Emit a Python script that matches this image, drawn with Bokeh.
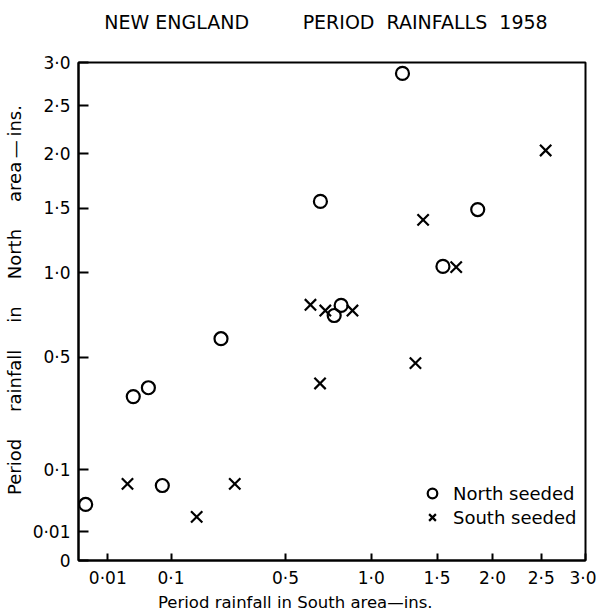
import numpy as np
from bokeh.plotting import figure
from bokeh.models import Range1d, FixedTicker, CustomJSTickFormatter, Title
from bokeh.embed import file_html
from bokeh.resources import INLINE

# ---- data (inches of rainfall per period) ----
north_seeded_south = [0.0006, 0.035, 0.057, 0.082, 0.237, 0.683, 0.763, 0.805, 1.225, 1.55, 1.86]
north_seeded_north = [0.038, 0.325, 0.361, 0.068, 0.595, 1.56, 0.726, 0.787, 2.87, 1.046, 1.49]
south_seeded_south = [0.028, 0.163, 0.285, 0.681, 0.628, 0.711, 0.876, 1.325, 1.386, 1.665, 2.547]
south_seeded_north = [0.071, 0.023, 0.071, 0.379, 0.791, 0.756, 0.756, 0.471, 1.404, 1.041, 2.034]

x_tick_values = [0.01, 0.1, 0.5, 1.0, 1.5, 2.0, 2.5, 3.0]
x_tick_labels = ["0·01", "0·1", "0·5", "1·0", "1·5", "2·0", "2·5", "3·0"]
y_tick_values = [0.0, 0.01, 0.1, 0.5, 1.0, 1.5, 2.0, 2.5, 3.0]
y_tick_labels = ["0", "0·01", "0·1", "0·5", "1·0", "1·5", "2·0", "2·5", "3·0"]

title_text = ("NEW ENGLAND\u2003\u2003\u2002\u00a0PERIOD\u00a0 RAINFALLS\u00a0 1958\u00a0\u00a0\n\u00a0")
x_label_text = "Period rainfall in South area\u2014ins." + "\u00a0" * 14
gap = "\u2003\u2002"
y_label_text = ("\u00a0" * 4 + "Period" + gap + "rainfall" + gap + "in" + gap + "North" + gap
                + "area\u2009\u2014\u2009ins.")

FONT = "DejaVu Sans"
vmax = 3.0

p = figure(width=596, height=614, output_backend="svg", toolbar_location=None,
           x_range=Range1d(0, np.sqrt(vmax)), y_range=Range1d(0, np.sqrt(vmax)),
           min_border_left=75, min_border_right=11, min_border_top=62, min_border_bottom=54)

p.xgrid.visible = False
p.ygrid.visible = False
p.background_fill_color = "white"
p.border_fill_color = "white"
p.outline_line_color = "black"
p.outline_line_width = 2
p.outline_line_alpha = 1.0

fmt_code = """
let best = 0, bd = Infinity;
for (let i = 0; i < vals.length; i++) {
  const d = Math.abs(vals[i] - tick);
  if (d < bd) { bd = d; best = i; }
}
return labs[best];
"""

xs_ticks = [float(np.sqrt(v)) for v in x_tick_values]
ys_ticks = [float(np.sqrt(v)) for v in y_tick_values]

p.xaxis.ticker = FixedTicker(ticks=xs_ticks)
p.xaxis.formatter = CustomJSTickFormatter(args=dict(vals=xs_ticks, labs=x_tick_labels), code=fmt_code)
p.yaxis.ticker = FixedTicker(ticks=ys_ticks)
p.yaxis.formatter = CustomJSTickFormatter(args=dict(vals=ys_ticks, labs=y_tick_labels), code=fmt_code)

p.xaxis.axis_label = x_label_text
p.yaxis.axis_label = y_label_text

for ax, tin, so, lso in ((p.xaxis, 7, 7, 2), (p.yaxis, 10, 8, 5)):
    ax.minor_tick_line_color = None
    ax.major_tick_in = tin
    ax.major_tick_out = 0
    ax.major_tick_line_width = 2
    ax.major_tick_line_color = "black"
    ax.axis_line_width = 2
    ax.axis_line_color = "black"
    ax.major_label_standoff = so
    ax.major_label_text_font = FONT
    ax.major_label_text_font_size = "17px"
    ax.major_label_text_color = "black"
    ax.axis_label_text_font = FONT
    ax.axis_label_text_font_size = "16.5px"
    ax.axis_label_text_font_style = "normal"
    ax.axis_label_text_color = "black"
    ax.axis_label_standoff = lso

p.yaxis.axis_label_text_font_size = "18px"

r1 = p.scatter(np.sqrt(north_seeded_south), np.sqrt(north_seeded_north), marker="circle", size=13,
               fill_color=None, line_color="black", line_width=2.2, legend_label="North seeded")
r2 = p.scatter(np.sqrt(south_seeded_south), np.sqrt(south_seeded_north), marker="x", size=16,
               line_color="black", line_width=2.2, legend_label="South seeded")

lg = p.legend[0]
lg.location = (340, 31)
lg.border_line_color = None
lg.background_fill_alpha = 0
lg.padding = 0
lg.margin = 0
lg.spacing = 0
lg.label_standoff = 7
lg.glyph_width = 28
lg.glyph_height = 24
lg.label_height = 24
lg.label_text_font = FONT
lg.label_text_font_size = "18px"
lg.label_text_color = "black"

p.title = Title(text=title_text, align="center", offset=-4, standoff=15, text_font=FONT,
                text_font_size="19px", text_font_style="normal", text_color="black")

open("out.html", "w").write(file_html(p, INLINE))
